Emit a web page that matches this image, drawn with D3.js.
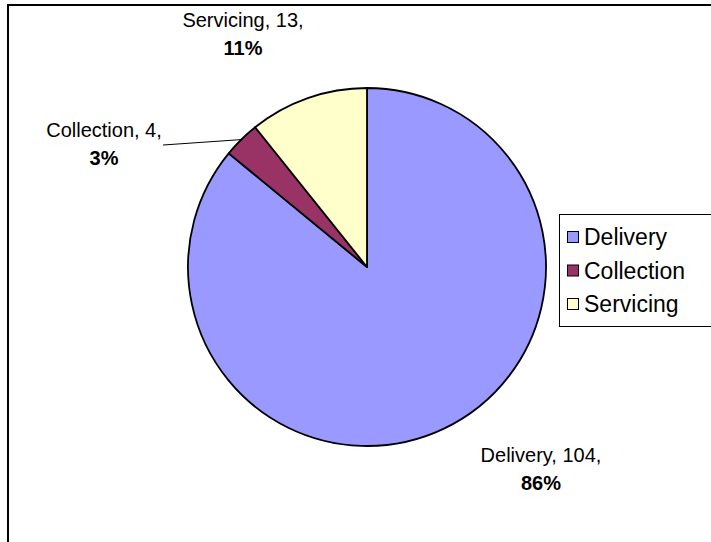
<!DOCTYPE html>
<html>
<head>
<meta charset="utf-8">
<script src="https://cdn.jsdelivr.net/npm/d3@7"></script>
<style>
	body { margin: 0; background: #fff; }
	text { font-family: Arial, "Liberation Sans", sans-serif; }
</style>
</head>
<body>
<div id="chart"></div>
<script>
// data
const categories = ["Delivery", "Collection", "Servicing"];
const values = [104, 4, 13];
const colors = ["#9999FF", "#993366", "#FFFFCC"];

const width = 711, height = 542;
const cx = 367, cy = 267, radius = 179;

const svg = d3.select("#chart")
	.append("svg")
	.attr("width", width)
	.attr("height", height);

// chart area border (left and top only visible)
svg.append("path")
	.attr("d", `M8,${height} L8,5 L${width},5`)
	.attr("fill", "none")
	.attr("stroke", "#000")
	.attr("stroke-width", 2);

const data = categories.map((c, i) => ({ name: c, value: values[i], color: colors[i] }));
const total = d3.sum(values);

const pie = d3.pie()
	.value(d => d.value)
	.sort(null);

const arc = d3.arc()
	.innerRadius(0)
	.outerRadius(radius);

const arcs = pie(data);

const g = svg.append("g")
	.attr("transform", `translate(${cx},${cy})`);

g.selectAll("path")
	.data(arcs)
	.enter().append("path")
	.attr("d", arc)
	.attr("fill", d => d.data.color)
	.attr("stroke", "#000")
	.attr("stroke-width", 1.8)
	.attr("stroke-linejoin", "round");

// label positions (relative to pie center)
const labelPos = {
	"Delivery": [174, 195],
	"Collection": [-263, -130],
	"Servicing": [-124, -240]
};

const labels = svg.append("g");
arcs.forEach(d => {
	const p = labelPos[d.data.name];
	const pct = Math.round(d.data.value / total * 100) + "%";
	const t = labels.append("text")
		.attr("x", cx + p[0])
		.attr("y", cy + p[1])
		.attr("text-anchor", "middle")
		.attr("font-size", 20)
		.attr("fill", "#000");
	t.append("tspan")
		.attr("x", cx + p[0])
		.text(`${d.data.name}, ${d.data.value},`);
	t.append("tspan")
		.attr("x", cx + p[0])
		.attr("dy", 28)
		.attr("font-weight", "bold")
		.text(pct);
});

// leader line for the small slice
const coll = arcs[1];
const mid = (coll.startAngle + coll.endAngle) / 2;
svg.append("line")
	.attr("x1", cx + radius * Math.sin(mid))
	.attr("y1", cy - radius * Math.cos(mid))
	.attr("x2", cx - 204)
	.attr("y2", cy - 122)
	.attr("stroke", "#000")
	.attr("stroke-width", 1);

// legend
const legend = svg.append("g")
	.attr("transform", "translate(559,214)");

legend.append("rect")
	.attr("x", 0.5)
	.attr("y", 0.5)
	.attr("width", 170)
	.attr("height", 112)
	.attr("fill", "#fff")
	.attr("stroke", "#000")
	.attr("stroke-width", 1);

const item = legend.selectAll("g.item")
	.data(data)
	.enter().append("g")
	.attr("class", "item")
	.attr("transform", (d, i) => `translate(8, ${23 + i * 33.5})`);

item.append("rect")
	.attr("x", 0.5)
	.attr("y", -5.5)
	.attr("width", 11)
	.attr("height", 11)
	.attr("fill", d => d.color)
	.attr("stroke", "#000")
	.attr("stroke-width", 1);

item.append("text")
	.attr("x", 17)
	.attr("y", 8)
	.attr("font-size", 23)
	.text(d => d.name);
</script>
</body>
</html>
